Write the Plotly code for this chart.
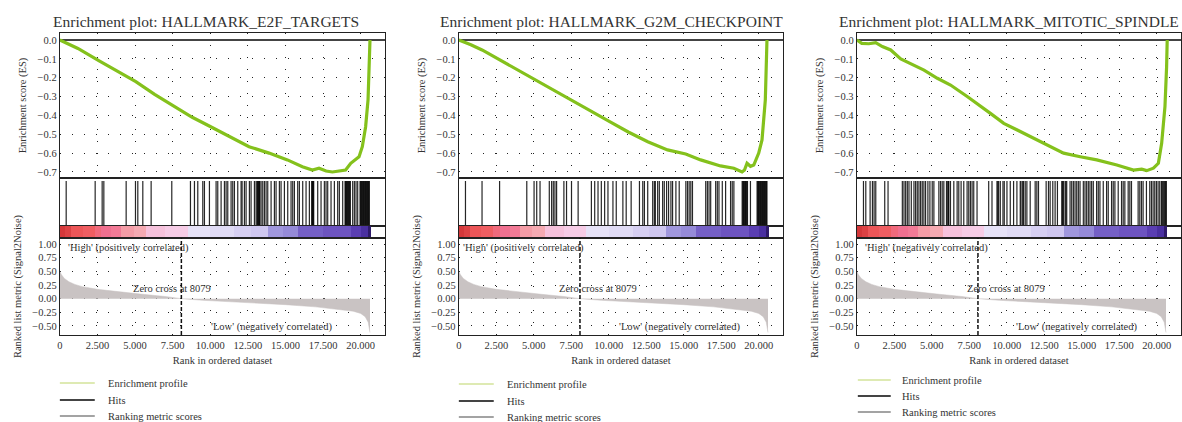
import plotly.graph_objects as go

W, H = 1182, 422

# ---------------- data ----------------
PANEL_TITLES = [
    "Enrichment plot: HALLMARK_E2F_TARGETS",
    "Enrichment plot: HALLMARK_G2M_CHECKPOINT",
    "Enrichment plot: HALLMARK_MITOTIC_SPINDLE",
]

# running enrichment score (rank, ES)
E2F_RANK = [0, 500, 1200, 2614, 3800, 5050, 6300, 7600, 8800, 10030, 11300, 12580, 13910,
            15130, 16125, 16790, 17230, 17700, 18120, 18600, 19000, 19340, 19890, 20110,
            20330, 20490, 20555, 20620]
E2F_ES = [0, -0.02, -0.045, -0.111, -0.165, -0.221, -0.288, -0.354, -0.41, -0.46, -0.515,
          -0.566, -0.60, -0.636, -0.672, -0.69, -0.68, -0.695, -0.70, -0.695, -0.69, -0.654,
          -0.62, -0.566, -0.46, -0.318, -0.141, 0]

G2M_RANK = [0, 800, 1550, 2657, 3900, 5080, 6350, 7625, 8850, 10060, 11300, 12600, 13920,
            15130, 16130, 16800, 17450, 18340, 18890, 19050, 19220, 19450, 19670, 20000,
            20220, 20440, 20550]
G2M_ES = [0, -0.025, -0.053, -0.103, -0.158, -0.212, -0.27, -0.327, -0.38, -0.433, -0.488,
          -0.54, -0.583, -0.605, -0.636, -0.652, -0.668, -0.68, -0.70, -0.69, -0.654, -0.67,
          -0.663, -0.60, -0.53, -0.318, 0]

MIT_RANK = [0, 330, 800, 1260, 1700, 2260, 2930, 3700, 4480, 5370, 6250, 7360, 8100, 8910,
            9800, 11130, 12460, 13790, 14900, 16000, 17340, 18450, 19000, 19330, 19780,
            20110, 20330, 20550, 20660, 20700]
MIT_ES = [0, -0.018, -0.02, -0.014, -0.035, -0.053, -0.10, -0.13, -0.16, -0.203, -0.239,
          -0.30, -0.345, -0.389, -0.442, -0.495, -0.548, -0.60, -0.619, -0.636, -0.663,
          -0.69, -0.685, -0.693, -0.68, -0.654, -0.548, -0.354, -0.141, 0]

# gene-set hit positions (rank)
E2F_HITS = [421, 2348, 2813, 2924, 4408, 5028, 5183, 5515, 6069, 7442, 8683, 8949, 9170,
            9503, 9613, 9945, 10388, 10499, 10721, 10942, 11053, 11164, 11385, 11496, 11607,
            11828, 12050, 12116, 12271, 12382, 12603, 12714, 12936, 13047, 13113, 13157,
            13180, 13224, 13260, 13290, 13379, 13490, 13601, 13712, 13822, 14044, 14265,
            14376, 14597, 14708, 14930, 15151, 15372, 15483, 15594, 15815, 15926, 16147,
            16369, 16590, 16745, 16780, 16812, 16845, 16878, 17144, 17366, 17587, 17698,
            17809, 18030, 18252, 18473, 18584, 18806, 18961, 19000, 19049, 19090, 19138,
            19180, 19227, 19270, 19315, 19470, 19581, 19692, 19803, 19958, 20000, 20046,
            20090, 20135, 20180, 20223, 20270, 20312, 20355, 20400, 20445, 20489, 20530,
            20578]
G2M_HITS = [442, 1547, 2718, 4531, 5017, 5194, 5415, 6033, 6188, 6299, 6409, 6520, 7006,
            7183, 7514, 7956, 8840, 9061, 9282, 9503, 9724, 9945, 10277, 10498, 10940, 11161,
            11492, 12045, 12266, 12376, 12597, 12929, 13039, 13105, 13260, 13371, 13592,
            13702, 13857, 13989, 14144, 14255, 14476, 14697, 15139, 15249, 15360, 15470,
            15581, 16465, 16575, 16686, 16796, 17128, 17238, 17349, 17570, 17791, 18122,
            18233, 18343, 18896, 18940, 18984, 19030, 19073, 19115, 19161, 19205, 19250,
            19448, 19890, 19935, 19978, 20020, 20067, 20110, 20155, 20200, 20243, 20290,
            20332, 20375, 20420, 20465, 20509, 20550]
MIT_HITS = [443, 598, 886, 1041, 1152, 1263, 1861, 2082, 3035, 3145, 3256, 3367, 3478, 3633,
            3810, 3921, 4031, 4142, 4253, 4364, 4474, 4585, 4740, 4873, 5028, 5139, 5471,
            5582, 5693, 5803, 5980, 6069, 6100, 6136, 6246, 6468, 6689, 6800, 6955, 7132,
            7354, 7465, 7575, 7686, 7797, 8018, 8794, 9015, 9347, 9400, 9458, 9569, 9746,
            9834, 10012, 10233, 10455, 10676, 10898, 10950, 11060, 11119, 11230, 11341,
            11562, 11894, 12005, 12116, 12626, 12781, 12892, 13069, 13224, 13379, 13667,
            13720, 13778, 13888, 13940, 13999, 14221, 14331, 14442, 14553, 14664, 14774,
            14885, 15106, 15217, 15328, 15439, 15549, 15660, 15771, 15992, 16103, 16214,
            16435, 16657, 16768, 16989, 17100, 17211, 17432, 17654, 17764, 17875, 18097,
            18207, 18318, 18761, 18872, 18983, 19093, 19315, 19536, 19647, 19758, 19869,
            19980, 20091, 20201, 20312, 20367, 20423, 20478, 20534, 20590, 20644]

# ranked list metric (Signal2Noise), shared by all three panels
METRIC_RANK = [0, 100, 300, 600, 1000, 1500, 2500, 4000, 5500, 7000, 8079, 9500, 11000,
               13000, 15000, 17000, 18500, 19500, 20000, 20300, 20500, 20620]
METRIC_VAL = [0.50, 0.44, 0.37, 0.31, 0.26, 0.22, 0.17, 0.12, 0.08, 0.04, 0.0, -0.03, -0.05,
              -0.08, -0.11, -0.15, -0.19, -0.23, -0.27, -0.33, -0.43, -0.62]
ZERO_CROSS = 8079

# heat-map colour band of the ranked list
BAND_EDGES = [0, 300, 750, 1500, 2300, 2750, 3400, 4080, 4900, 5740, 7000, 8500, 10000,
              11600, 12700, 13820, 14800, 15800, 17500, 19350, 20000, 20480, 20660]
BAND_COLORS = ["#d4383a", "#dc4244", "#ec5658", "#ef5e62", "#f06a7c", "#f07090", "#f27a96",
               "#f49ca6", "#f5aab2", "#f6c2dc", "#f6cce6", "#e6e2f7", "#e0dbf5", "#d6cff2",
               "#cfc7f0", "#a097dd", "#958ad8", "#7560c6", "#6d54c0", "#5a3eb2", "#4a30a0",
               "#2e1a6a"]

RANK_TICKS = [0, 2500, 5000, 7500, 10000, 12500, 15000, 17500, 20000]
RANK_TICK_TEXT = ["0", "2.500", "5.000", "7.500", "10.000", "12.500", "15.000", "17.500", "20.000"]
ES_TICKS = [0.0, -0.1, -0.2, -0.3, -0.4, -0.5, -0.6, -0.7]
METRIC_TICKS = [1.0, 0.75, 0.5, 0.25, 0.0, -0.25, -0.5]

HIGH_LABELS = ["'High' (positively correlated)", "'High' (positively correlated)",
               "'High' (negatively correlated)"]
LOW_LABEL = "'Low' (negatively correlated)"
ZERO_LABEL = "Zero cross at 8079"
LEGEND_LABELS = ["Enrichment profile", "Hits", "Ranking metric scores"]

# ---------------- layout geometry ----------------
FONT = "Liberation Serif, Times New Roman, serif"
TXT = "#333333"
PANEL_X = [(57, 383), (457, 782), (856, 1181)]
ES_Y = (33, 178)
HIT_Y = (178, 226)
BAND_Y = (226, 238)
MET_Y = (238, 335)
X_RANGE = [0, 21620]
TITLE_CX = [203.5, 610, 1008.5]
LEGEND_POS = [(57, 92, 103, [383, 400, 416]), (457, 492, 503, [384, 401, 417]),
              (857, 890, 899, [380, 396, 412])]
ZERO_TXT_X = [7487, 9282, 9968]
LOW_TXT_X = [14087, 14700, 14640]
HIGH_TXT_X = [399, 177, 400]


def xd(px0, px1):
    return [px0 / W, px1 / W]


def yd(py0, py1):
    return [1 - py1 / H, 1 - py0 / H]


ES_DATA = [(E2F_RANK, E2F_ES), (G2M_RANK, G2M_ES), (MIT_RANK, MIT_ES)]
HITS = [E2F_HITS, G2M_HITS, MIT_HITS]

fig = go.Figure()
layout = dict(width=W, height=H, margin=dict(l=0, r=0, t=0, b=0),
              paper_bgcolor="white", plot_bgcolor="white", showlegend=False,
              font=dict(family=FONT, size=10.5, color=TXT))
shapes, annotations = [], []

GRID = dict(showgrid=True, gridcolor="#222222", gridwidth=1.2, griddash="1.3px,10.7px")
BORDER = dict(showline=True, linecolor="#222222", linewidth=1.2, mirror=True, ticks="",
              zeroline=False)

bar_mid = [(a + b) / 2 for a, b in zip(BAND_EDGES[:-1], BAND_EDGES[1:])]
bar_w = [b - a for a, b in zip(BAND_EDGES[:-1], BAND_EDGES[1:])]

for p in range(3):
    base = p * 4
    ids = [base + k + 1 for k in range(4)]
    names = ["" if i == 1 else str(i) for i in ids]
    xdom = xd(*PANEL_X[p])

    # ES panel
    rk, es = ES_DATA[p]
    fig.add_trace(go.Scatter(x=rk, y=es, mode="lines", line=dict(color="#84c11c", width=3.2),
                             xaxis="x" + names[0], yaxis="y" + names[0], hoverinfo="skip"))
    layout["xaxis" + names[0]] = dict(domain=xdom, range=X_RANGE, anchor="y" + names[0],
                                      tickvals=RANK_TICKS, showticklabels=False,
                                      **GRID, **BORDER)
    layout["yaxis" + names[0]] = dict(domain=yd(*ES_Y), range=[-0.732, 0.037],
                                      anchor="x" + names[0], tickvals=ES_TICKS,
                                      tickformat=".1f",
                                      title=dict(text="Enrichment score (ES)",
                                                 font=dict(size=10.5), standoff=8),
                                      **GRID, **{k: v for k, v in BORDER.items() if k != "zeroline"},
                                      zeroline=True, zerolinecolor="#444444", zerolinewidth=2)

    # Hits panel
    hx, hy = [], []
    for h in HITS[p]:
        hx += [h, h, None]
        hy += [0, 0.94, None]
    fig.add_trace(go.Scatter(x=hx, y=hy, mode="lines",
                             line=dict(color="rgba(0,0,0,0.85)", width=1.2),
                             xaxis="x" + names[1], yaxis="y" + names[1], hoverinfo="skip"))
    layout["xaxis" + names[1]] = dict(domain=xdom, range=X_RANGE, anchor="y" + names[1],
                                      showticklabels=False, showgrid=False, **BORDER)
    layout["yaxis" + names[1]] = dict(domain=yd(*HIT_Y), range=[0, 1], anchor="x" + names[1],
                                      showticklabels=False, showgrid=False, **BORDER)

    # colour band
    fig.add_trace(go.Bar(x=bar_mid, y=[1] * len(bar_mid), width=bar_w,
                         marker=dict(color=BAND_COLORS, line=dict(width=0)),
                         xaxis="x" + names[2], yaxis="y" + names[2], hoverinfo="skip"))
    layout["xaxis" + names[2]] = dict(domain=xdom, range=X_RANGE, anchor="y" + names[2],
                                      showticklabels=False, showgrid=False, **BORDER)
    layout["yaxis" + names[2]] = dict(domain=yd(*BAND_Y), range=[0, 1], anchor="x" + names[2],
                                      showticklabels=False, showgrid=False, **BORDER)

    # ranked metric
    fig.add_trace(go.Scatter(x=METRIC_RANK, y=METRIC_VAL, mode="lines", fill="tozeroy",
                             fillcolor="#c9c3c3", line=dict(color="#c9c3c3", width=0.5),
                             xaxis="x" + names[3], yaxis="y" + names[3], hoverinfo="skip"))
    layout["xaxis" + names[3]] = dict(domain=xdom, range=X_RANGE, anchor="y" + names[3],
                                      tickvals=RANK_TICKS, ticktext=RANK_TICK_TEXT,
                                      title=dict(text="Rank in ordered dataset",
                                                 font=dict(size=10.5), standoff=6),
                                      **GRID, **BORDER)
    layout["yaxis" + names[3]] = dict(domain=yd(*MET_Y), range=[-0.665, 1.11],
                                      anchor="x" + names[3], tickvals=METRIC_TICKS,
                                      tickformat=".2f",
                                      title=dict(text="Ranked list metric (Signal2Noise)",
                                                 font=dict(size=10.5), standoff=8),
                                      **GRID, **BORDER)

    # zero-cross dashed line
    shapes.append(dict(type="line", xref="x" + names[3], yref="y" + names[3] + " domain",
                       x0=ZERO_CROSS, x1=ZERO_CROSS, y0=0, y1=1,
                       line=dict(color="#111111", width=1.5, dash="4px,2px")))

    # texts inside ranked panel
    annotations.append(dict(xref="x" + names[3], yref="y" + names[3], x=HIGH_TXT_X[p], y=0.92,
                            text=HIGH_LABELS[p], showarrow=False, xanchor="left",
                            font=dict(size=10.5, color=TXT)))
    annotations.append(dict(xref="x" + names[3], yref="y" + names[3], x=ZERO_TXT_X[p], y=0.18,
                            text=ZERO_LABEL, showarrow=False, xanchor="center",
                            font=dict(size=10.5, color=TXT)))
    annotations.append(dict(xref="x" + names[3], yref="y" + names[3], x=LOW_TXT_X[p], y=-0.51,
                            text=LOW_LABEL, showarrow=False, xanchor="center",
                            font=dict(size=10.5, color=TXT)))

    # panel title
    annotations.append(dict(xref="paper", yref="paper", x=TITLE_CX[p] / W, y=1 - 21.7 / H,
                            text=PANEL_TITLES[p], showarrow=False, xanchor="center",
                            yanchor="middle", font=dict(size=15.5, color=TXT)))

    # legend
    lx0, lx1, tx, lys = LEGEND_POS[p]
    leg_colors = ["#d3e39a", "#444444", "#a3a3a3"]
    leg_widths = [1.5, 2.2, 2]
    for k in range(3):
        yy = 1 - lys[k] / H
        shapes.append(dict(type="line", xref="paper", yref="paper", x0=lx0 / W, x1=lx1 / W,
                           y0=yy, y1=yy, line=dict(color=leg_colors[k], width=leg_widths[k])))
        annotations.append(dict(xref="paper", yref="paper", x=tx / W, y=yy,
                                text=LEGEND_LABELS[k], showarrow=False, xanchor="left",
                                yanchor="middle", font=dict(size=10.5, color=TXT)))

layout["shapes"] = shapes
layout["annotations"] = annotations
layout["bargap"] = 0
fig.update_layout(**layout)
fig.write_html("out.html")
